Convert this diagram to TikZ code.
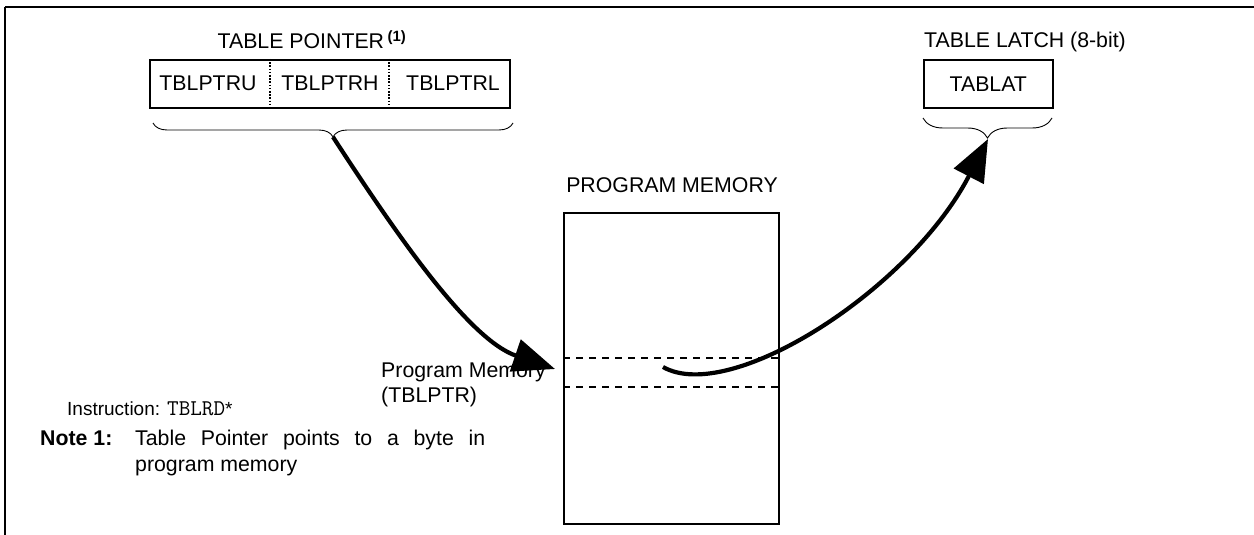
\documentclass[tikz,border=0pt]{standalone}
\usepackage{fontspec}
\setmainfont{Liberation Sans}
\usetikzlibrary{arrows.meta,decorations.pathreplacing}
\begin{document}
\begin{tikzpicture}[x=1pt,y=-1pt,
  lbl/.style={font=\fontsize{21.3}{25}\selectfont, inner sep=0pt},
  small/.style={font=\fontsize{19}{23}\selectfont, inner sep=0pt},
  regbox/.style={draw, line width=1.6pt, minimum height=48pt, inner sep=0pt},
  divider/.style={line width=1.6pt, dash pattern=on 1.6pt off 1.6pt},
  slotline/.style={line width=1.3pt, dash pattern=on 7pt off 6pt},
  brc/.style={decorate, decoration={brace, mirror, amplitude=#1}, line width=0.9pt},
  bigarrow/.style={line width=4.2pt, -{Triangle[length=42pt,width=33pt]}}
]
\useasboundingbox (0,0) rectangle (1254,535);
% frame
\draw[line width=2.2pt] (5,7) -- (1254,7);
\draw[line width=1.2pt] (5,7) -- (5,535);

% table pointer
\node[lbl, anchor=base] (ptrlbl) at (312,49) {TABLE POINTER\,\textsuperscript{\bfseries(1)}};
\node[regbox, minimum width=360pt, anchor=north west] (ptr) at (149,59) {};
\draw[divider] (ptr.north west) ++(121,0) -- ++(0,48);
\draw[divider] (ptr.north west) ++(240,0) -- ++(0,48);
\node[lbl] (tu) at (208,83) {TBLPTRU};
\node[lbl] (th) at (330,83) {TBLPTRH};
\node[lbl] (tl) at (453,83) {TBLPTRL};
\draw[brc=14pt] (153,123) -- (513,123);
\coordinate (ptip) at (333,137);

% table latch
\node[lbl, anchor=base west] (latlbl) at (924,48) {TABLE LATCH (8-bit)};
\node[regbox, minimum width=129pt, anchor=north west] (lat) at (923,59) {};
\node[lbl] (tablat) at (lat.center) {TABLAT};
\draw[brc=20pt] (923,118) -- (1052,118);
\coordinate (ltip) at (988,139);

% program memory
\node[lbl] (memlbl) at (672,185) {PROGRAM MEMORY};
\node[draw, line width=1.6pt, minimum width=215pt, minimum height=311pt, inner sep=0pt, anchor=north west] (mem) at (563,212) {};
\draw[slotline] (mem.west |- 0,358) -- (mem.east |- 0,358);
\draw[slotline] (mem.west |- 0,387) -- (mem.east |- 0,387);
\node[lbl, anchor=north west, align=left] (pmlbl) at (381,363) {Program Memory\\(TBLPTR)};
\coordinate (ptarget) at (555,369);
\coordinate (slot) at (663,367);

% arrows
\draw[bigarrow] (ptip) .. controls (400,240) and (470,340) .. (ptarget);
\draw[bigarrow] (slot) .. controls (730,405) and (910,290) .. (ltip);

% notes
\node[small, anchor=base west] (instr) at (67,415) {Instruction: {\fontsize{22.5}{24}\ttfamily TBLRD}*};
\node[lbl, anchor=base west] (note) at (40,445) {\bfseries Note 1:};
\node[lbl, anchor=base west] (notetxt1) at (135,445) {\makebox[350pt][s]{Table Pointer points to a byte in}};
\node[lbl, anchor=base west] (notetxt2) at (135,471) {program memory};
\end{tikzpicture}
\end{document}
